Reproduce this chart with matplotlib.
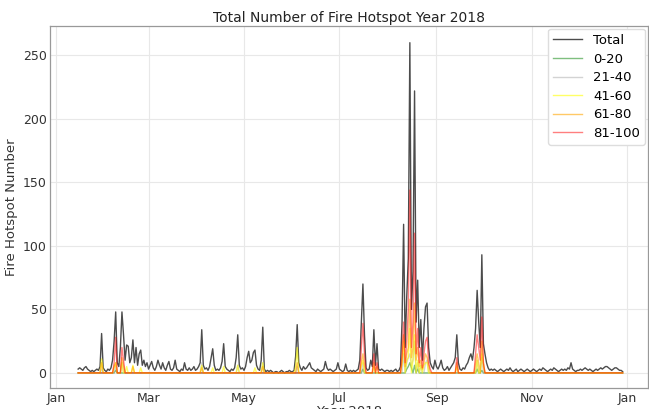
import matplotlib
matplotlib.use("Agg")
import matplotlib.pyplot as plt
import matplotlib.dates as mdates
import pandas as pd

# ---- data -------------------------------------------------------------
start_date = "2018-01-15"
end_date = "2018-12-29"

total_jan = [3, 4, 3, 2, 4, 5, 3, 2, 1, 2, 1, 2, 3, 2, 5, 31, 4]
total_feb = [2, 1, 3, 2, 4, 10, 25, 48, 8, 5, 20, 48, 30, 10, 22, 21, 8, 12, 26, 8,
             20, 6, 15, 18, 6, 10, 5, 8]
total_mar = [3, 6, 9, 4, 2, 5, 10, 6, 3, 8, 4, 2, 6, 9, 3, 2, 4, 10, 3, 2, 1, 3, 2,
             8, 3, 2, 4, 2, 3, 5, 2]
total_apr = [3, 5, 8, 34, 6, 3, 4, 2, 5, 12, 19, 6, 2, 3, 2, 4, 9, 23, 5, 3, 2, 1, 3,
             2, 4, 12, 30, 6, 3, 4]
total_may = [2, 5, 12, 17, 8, 10, 16, 18, 6, 3, 2, 10, 36, 3, 1, 2, 1, 2, 1, 0, 1, 1,
             0, 1, 2, 1, 0, 1, 1, 2, 1]
total_jun = [1, 2, 13, 38, 8, 4, 2, 5, 3, 4, 6, 8, 4, 3, 2, 1, 3, 2, 1, 2, 3, 9, 4, 2,
             3, 2, 1, 2, 3, 8]
total_jul = [3, 2, 1, 2, 7, 2, 1, 2, 1, 2, 1, 2, 3, 10, 40, 70, 30, 4, 2, 3, 10, 5, 34,
             6, 23, 3, 2, 3, 2, 1, 2]
total_aug = [2, 1, 2, 1, 2, 3, 1, 2, 5, 40, 117, 20, 60, 90, 260, 50, 80, 222, 40, 73,
             20, 42, 10, 35, 52, 55, 20, 8, 5, 3, 10]
total_sep = [5, 3, 6, 10, 4, 2, 3, 5, 2, 4, 6, 8, 12, 30, 8, 3, 2, 4, 3, 6, 8, 12, 15,
             10, 20, 35, 65, 40, 20, 93]
total_oct = [23, 15, 8, 4, 2, 3, 2, 3, 2, 1, 2, 3, 2, 1, 2, 3, 2, 4, 2, 1, 2, 3, 1, 2,
             3, 2, 1, 2, 3, 2, 1]
total_nov = [2, 3, 2, 1, 2, 3, 2, 4, 3, 2, 1, 2, 3, 2, 4, 3, 2, 1, 2, 3, 2, 3, 2, 4, 3,
             8, 3, 2, 1, 2]
total_dec = [2, 3, 2, 3, 4, 3, 2, 3, 2, 1, 2, 3, 2, 3, 4, 3, 4, 5, 5, 4, 3, 2, 3, 4, 4,
             3, 2, 2, 1]

conf_0_20 = {"02-08": 2, "07-16": 3, "08-13": 3, "08-14": 5, "08-15": 8, "08-16": 4,
             "08-18": 6, "08-20": 3, "09-27": 3, "09-30": 2}
conf_21_40 = {"01-30": 3, "02-08": 5, "02-12": 8, "04-04": 8, "04-27": 6, "05-13": 8,
              "06-04": 5, "07-16": 8, "08-11": 15, "08-13": 8, "08-14": 12, "08-15": 15,
              "08-16": 6, "08-17": 10, "08-18": 25, "08-20": 8, "08-22": 6, "08-25": 8,
              "08-26": 10, "09-27": 10, "09-30": 12}
conf_41_60 = {"01-30": 11, "02-07": 4, "02-08": 8, "02-12": 8, "02-15": 5, "02-19": 6,
              "02-24": 4, "04-04": 6, "04-11": 4, "04-18": 5, "04-27": 6, "05-08": 4,
              "05-13": 8, "06-03": 5, "06-04": 20, "07-15": 6, "07-16": 10, "07-23": 5,
              "08-10": 8, "08-11": 25, "08-13": 10, "08-14": 12, "08-15": 35, "08-17": 10,
              "08-18": 30, "08-20": 10, "08-22": 6, "08-24": 6, "08-25": 8, "08-26": 8,
              "09-14": 5, "09-27": 10, "09-30": 15, "10-01": 5}
conf_61_80 = {"01-30": 8, "02-07": 5, "02-08": 8, "02-12": 12, "02-13": 6, "02-19": 5,
              "04-04": 4, "05-13": 5, "06-04": 8, "07-15": 8, "07-16": 15, "07-17": 6,
              "07-23": 8, "07-25": 5, "08-10": 8, "08-11": 30, "08-12": 5, "08-13": 15,
              "08-14": 20, "08-15": 58, "08-16": 12, "08-17": 20, "08-18": 55, "08-19": 10,
              "08-20": 20, "08-21": 5, "08-22": 10, "08-23": 3, "08-24": 8, "08-25": 15,
              "08-26": 12, "08-27": 6, "09-14": 8, "09-26": 8, "09-27": 15, "09-28": 8,
              "09-30": 25, "10-01": 8}
conf_81_100 = {"02-07": 8, "02-08": 28, "02-12": 20, "02-13": 10, "07-15": 20, "07-16": 39,
               "07-17": 15, "07-23": 15, "07-25": 8, "08-10": 15, "08-11": 40, "08-12": 8,
               "08-13": 25, "08-14": 50, "08-15": 144, "08-16": 20, "08-17": 40,
               "08-18": 110, "08-19": 15, "08-20": 35, "08-21": 8, "08-22": 20, "08-23": 4,
               "08-24": 15, "08-25": 25, "08-26": 28, "08-27": 8, "08-28": 3, "09-14": 12,
               "09-26": 15, "09-27": 30, "09-28": 20, "09-29": 10, "09-30": 44, "10-01": 8}

labels = ["Total", "0-20", "21-40", "41-60", "61-80", "81-100"]
colors = ["black", "green", "darkgray", "yellow", "orange", "red"]
alphas = [0.7, 0.5, 0.5, 0.6, 0.6, 0.5]

# ---- build series -------------------------------------------------------
dates = pd.date_range(start_date, end_date, freq="D")
total = (total_jan + total_feb + total_mar + total_apr + total_may + total_jun +
         total_jul + total_aug + total_sep + total_oct + total_nov + total_dec)
total_s = pd.Series(total, index=dates)


def to_series(d):
    s = pd.Series({pd.Timestamp("2018-" + k): v for k, v in d.items()})
    return s.reindex(dates, fill_value=0)


series = [total_s] + [to_series(d) for d in
                      (conf_0_20, conf_21_40, conf_41_60, conf_61_80, conf_81_100)]

# ---- plot -------------------------------------------------------------
plt.rcParams["font.family"] = ["DejaVu Sans"]
fig = plt.figure(figsize=(6.49, 4.09), dpi=100)
ax = fig.add_axes([0.077, 0.051, 0.921, 0.885])

for s, lab, c, a in zip(series, labels, colors, alphas):
    ax.plot(s.index, s.values, color=c, alpha=a, lw=1.0, label=lab)

ax.xaxis.set_major_locator(mdates.MonthLocator(bymonth=[1, 3, 5, 7, 9, 11]))
ax.xaxis.set_major_formatter(mdates.DateFormatter("%b"))
ax.set_xlim(pd.Timestamp("2017-12-28"), pd.Timestamp("2019-01-14"))
ax.set_ylim(-12, 273)
ax.set_yticks([0, 50, 100, 150, 200, 250])

ax.grid(True, color="#e8e8e8", lw=0.8)
ax.set_axisbelow(True)
for sp in ax.spines.values():
    sp.set_color("#999999")
    sp.set_linewidth(0.9)
ax.tick_params(colors="#333333", labelsize=9, length=0, pad=2.5)

ax.set_title("Total Number of Fire Hotspot Year 2018", fontsize=10, color="#222222", pad=3)
ax.set_ylabel("Fire Hotspot Number", fontsize=9.5, color="#333333", labelpad=3)
ax.set_xlabel("Year 2018", fontsize=9.5, color="#333333", labelpad=0)

leg = ax.legend(loc="upper right", fontsize=9.5, frameon=True, framealpha=1,
                edgecolor="#dddddd", borderaxespad=0.2, handlelength=2.2,
                labelspacing=0.42)

fig.savefig("out.png", dpi=100)
